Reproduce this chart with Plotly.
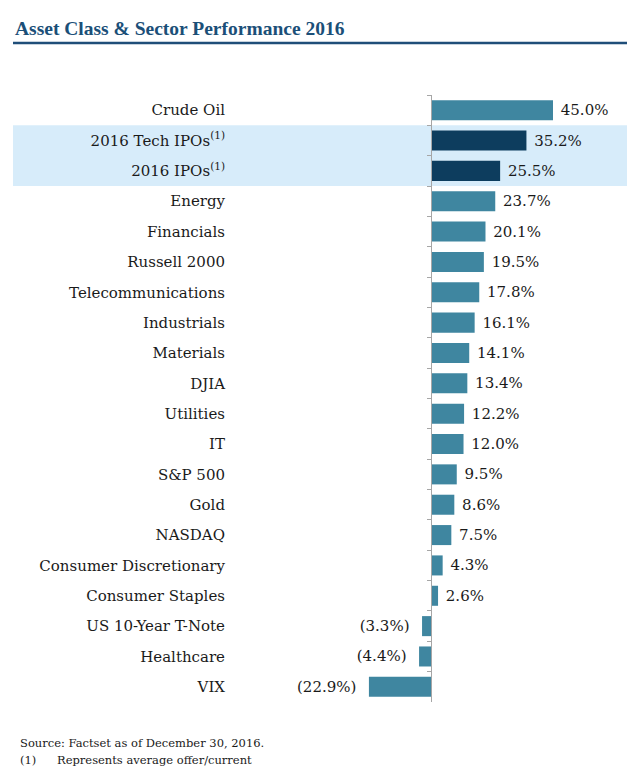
import plotly.graph_objects as go

categories = ["Crude Oil", "2016 Tech IPOs<sup>(1)</sup>", "2016 IPOs<sup>(1)</sup>", "Energy", "Financials",
              "Russell 2000", "Telecommunications", "Industrials", "Materials", "DJIA", "Utilities", "IT",
              "S&P 500", "Gold", "NASDAQ", "Consumer Discretionary", "Consumer Staples",
              "US 10-Year T-Note", "Healthcare", "VIX"]
values = [45.0, 35.2, 25.5, 23.7, 20.1, 19.5, 17.8, 16.1, 14.1, 13.4, 12.2, 12.0, 9.5, 8.6, 7.5,
          4.3, 2.6, -3.3, -4.4, -22.9]
highlighted = ["2016 Tech IPOs<sup>(1)</sup>", "2016 IPOs<sup>(1)</sup>"]

W, H = 627, 775
TEAL = "#3f86a0"
DARK = "#0d3d5e"
LABEL_FONT = "DejaVu Serif"
NB = "\u00a0"

texts = [f"{NB}{v:.1f}%" if v >= 0 else f"({abs(v):.1f}%){NB}{NB}" for v in values]
colors = [DARK if c in highlighted else TEAL for c in categories]

# plot area pixel geometry
x_left, x_right, x_zero = 300, 600, 431
px_per_pct = (553 - 431) / 45.0
xmin = (x_left - x_zero) / px_per_pct
xmax = (x_right - x_zero) / px_per_pct
y_top, y_bot = 95, 702

fig = go.Figure(go.Bar(
    x=values, y=categories, orientation="h",
    marker=dict(color=colors, line=dict(width=0)),
    width=0.66,
    text=texts, textposition="outside", cliponaxis=False,
    textfont=dict(family=LABEL_FONT, size=15, color="#1a1a1a"),
    hoverinfo="skip",
))

fig.update_layout(
    width=W, height=H,
    margin=dict(l=0, r=0, t=0, b=0),
    paper_bgcolor="white", plot_bgcolor="rgba(0,0,0,0)",
    showlegend=False,
    xaxis=dict(domain=[x_left / W, x_right / W], range=[xmin, xmax], visible=False,
               showgrid=False, zeroline=False, fixedrange=True),
    yaxis=dict(domain=[1 - y_bot / H, 1 - y_top / H], type="category",
               categoryorder="array", categoryarray=categories, autorange="reversed",
               anchor="free", position=x_zero / W,
               showline=True, linecolor="#a6a6a6", linewidth=1,
               ticks="outside", ticklen=4, tickcolor="#a6a6a6", tickson="boundaries",
               ticklabelstandoff=203,
               tickfont=dict(family=LABEL_FONT, size=15, color="#1a1a1a"),
               showgrid=False, zeroline=False, fixedrange=True),
    bargap=0.34,
)

# highlight band behind the IPO rows
fig.add_shape(type="rect", xref="paper", yref="y", x0=13 / W, x1=1,
              y0=0.5, y1=2.5, fillcolor="#d7ecfa", line=dict(width=0), layer="below")

# title and underline
fig.add_annotation(xref="paper", yref="paper", x=13 / W, y=1 - 28 / H, xanchor="left", yanchor="middle",
                   text="<b>Asset Class & Sector Performance 2016</b>", showarrow=False,
                   font=dict(family="Liberation Serif", size=19.5, color="#1b4f78"))
fig.add_shape(type="line", xref="paper", yref="paper", x0=13 / W, x1=1,
              y0=1 - 43 / H, y1=1 - 43 / H, line=dict(color="#1f4e79", width=2.5))

# footnotes
fn_font = dict(family=LABEL_FONT, size=11.5, color="#1a1a1a")
fig.add_annotation(xref="paper", yref="paper", x=18 / W, y=1 - 743 / H, xanchor="left", yanchor="middle",
                   text="Source: Factset as of December 30, 2016.", showarrow=False, font=fn_font)
fig.add_annotation(xref="paper", yref="paper", x=18 / W, y=1 - 760 / H, xanchor="left", yanchor="middle",
                   text="(1)", showarrow=False, font=fn_font)
fig.add_annotation(xref="paper", yref="paper", x=55 / W, y=1 - 760 / H, xanchor="left", yanchor="middle",
                   text="Represents average offer/current", showarrow=False, font=fn_font)

fig.write_html("out.html", config={"displayModeBar": False},
               post_script="document.body.style.margin='0px';document.body.style.overflow='hidden';")
